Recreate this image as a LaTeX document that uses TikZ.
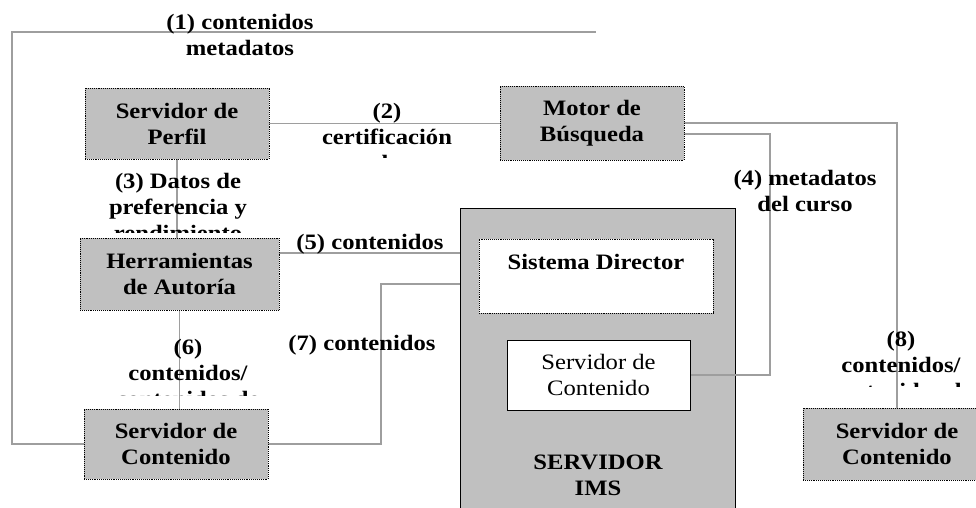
\documentclass[tikz,border=0pt]{standalone}
\usepackage{fontspec}
\setmainfont{Liberation Serif}[FakeStretch=1.12]
\usetikzlibrary{calc}
\pgfdeclarelayer{back}
\pgfdeclarelayer{wires}
\pgfsetlayers{back,wires,main}
\definecolor{boxgray}{RGB}{192,192,192}
\definecolor{wiregray}{RGB}{158,158,158}
\tikzset{
  tf/.style={font=\fontsize{22}{26}\selectfont\bfseries},
  grbox/.style={draw=black, densely dotted, line width=0.9pt, fill=boxgray, align=center, inner sep=0pt, tf},
  whbox/.style={draw=black, densely dotted, line width=0.9pt, fill=white, inner sep=0pt},
  wire/.style={draw=wiregray, line width=1.8pt},
  lbl/.style={tf, align=center, inner sep=0pt},
}
\begin{document}
\begin{tikzpicture}[x=1pt,y=-1pt]
\useasboundingbox (0,0) rectangle (976,507);
\clip (0,0) rectangle (976,507);

\begin{pgfonlayer}{back}
\node[draw=black, line width=1pt, fill=boxgray, minimum width=275pt, minimum height=330pt] (ims) at (597.5,373) {};
\end{pgfonlayer}

\node[grbox, minimum width=184pt, minimum height=71pt] (perfil) at (177,123.5) {Servidor de\\Perfil};
\node[grbox, minimum width=184pt, minimum height=74pt] (motor) at (592,123) {Motor de\\Búsqueda};
\node[grbox, minimum width=199pt, minimum height=72pt] (herr) at (179.5,274) {Herramientas\\de Autoría};
\node[grbox, minimum width=184pt, minimum height=70pt] (servL) at (176,444) {Servidor de\\Contenido};
\node[grbox, minimum width=188pt, minimum height=72pt] (servR) at (897,444) {Servidor de\\Contenido};
\node[whbox, minimum width=234pt, minimum height=74pt] (sisdir) at (596,276) {};
\node[lbl] (sisdirtxt) at (596,262) {Sistema Director};
\node[draw=black, line width=0.9pt, fill=white, minimum width=183pt, minimum height=70pt, align=center, inner sep=0pt, font=\fontsize{22}{26}\selectfont] (inner) at (598.5,375) {Servidor de\\Contenido};
\node[lbl] (imstxt) at (598,475) {SERVIDOR\\IMS};

\begin{pgfonlayer}{wires}
\coordinate (tl) at (12,32);
\coordinate (tr) at (596,32);
\draw[wire] (servL.west) -| (tl) -- (tr);
\draw[wire] (perfil.east) -- (perfil.east -| motor.west);
\draw[wire] (perfil.south) -- (perfil.south |- herr.north);
\draw[wire] (motor.east) -| (servR.north);
\coordinate (c4) at (770,134);
\draw[wire] ([yshift=-11pt]motor.east) -- (c4) |- (inner.east);
\draw[wire] ([yshift=21pt]herr.east) -- ([yshift=21pt]herr.east -| ims.west);
\draw[wire] (herr.south) -- (herr.south |- servL.north);
\coordinate (c7) at (381,284);
\draw[wire] (servL.east) -| (c7) -- (c7 -| ims.west);
\end{pgfonlayer}

\node[lbl] (l1) at (240,35) {(1) contenidos\\metadatos};
\begin{scope}
  \clip (300,90) rectangle (480,157.5);
  \node[lbl] (l2) at (387,137) {(2)\\certificación\\de};
\end{scope}
\begin{scope}
  \clip (90,165) rectangle (270,232.5);
  \node[lbl] (l3) at (178,207) {(3) Datos de\\preferencia y\\rendimiento};
\end{scope}
\node[lbl] (l4) at (805,191) {(4) metadatos\\del curso};
\node[lbl] (l5) at (370,244) {(5) contenidos};
\begin{scope}
  \clip (100,330) rectangle (280,395.5);
  \node[lbl] (l6) at (188,373) {(6)\\contenidos/\\contenidos de};
\end{scope}
\node[lbl] (l7) at (362,345) {(7) contenidos};
\begin{scope}
  \clip (800,320) rectangle (976,386.5);
  \node[lbl] (l8) at (901,365) {(8)\\contenidos/\\contenidos de};
\end{scope}
\end{tikzpicture}
\end{document}
